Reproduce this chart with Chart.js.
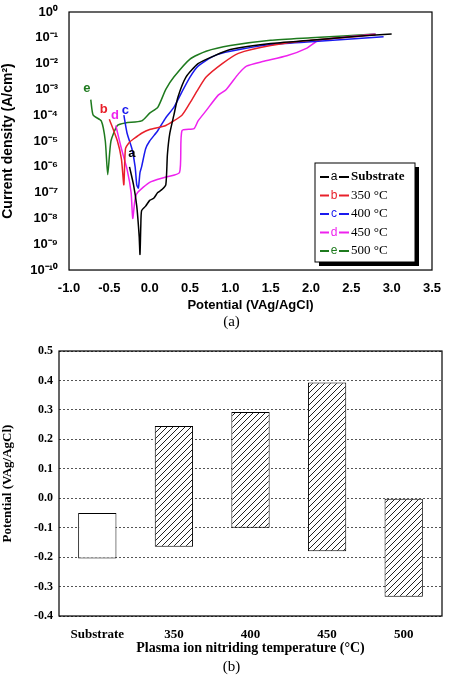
<!DOCTYPE html>
<html>
<head>
<meta charset="utf-8">
<script src="https://cdn.jsdelivr.net/npm/chart.js@4.4.1/dist/chart.umd.min.js"></script>
<style>
body { margin: 0; background: #fff; }
#wrapA { position: absolute; left: 0; top: 0; width: 453px; height: 330px; }
#wrapB { position: absolute; left: 0; top: 330px; width: 453px; height: 345px; }
</style>
</head>
<body>
<div id="wrapA"><canvas id="polChart"></canvas></div>
<div id="wrapB"><canvas id="barChart"></canvas></div>
<script>
// polarization curves (potential V, current density A/cm2)
const substrateX = [-0.25, -0.2, -0.16, -0.13, -0.12, -0.11, -0.1, -0.05, 0.0, 0.05, 0.1, 0.15, 0.2, 0.22, 0.25, 0.3, 0.35, 0.45, 0.6, 0.8, 1.0, 1.5, 2.0, 2.5, 3.0];
const substrateY = [1e-6, 2e-7, 3e-8, 2e-9, 4e-10, 5e-9, 2e-8, 3e-8, 5e-8, 6e-8, 1e-7, 1.3e-7, 2e-7, 3e-6, 2e-5, 1e-4, 5e-4, 3e-3, 1e-2, 2e-2, 3.5e-2, 6e-2, 8e-2, 1.1e-1, 1.4e-1];
const t350X = [-0.5, -0.4, -0.35, -0.32, -0.3, -0.25, -0.2, -0.1, 0.0, 0.2, 0.4, 0.5, 0.6, 0.7, 0.9, 1.1, 1.5, 2.0, 2.8];
const t350Y = [7e-5, 1e-5, 2e-6, 2e-7, 5e-6, 9e-6, 1.2e-5, 2e-5, 2.8e-5, 4e-5, 1e-4, 3e-4, 1e-3, 3e-3, 1e-2, 2.5e-2, 5e-2, 8e-2, 1.3e-1];
const t400X = [-0.32, -0.28, -0.22, -0.18, -0.16, -0.14, -0.12, -0.1, -0.05, 0.0, 0.1, 0.2, 0.3, 0.4, 0.5, 0.6, 0.8, 1.0, 1.5, 2.0, 2.9];
const t400Y = [1e-4, 2e-5, 5e-6, 1e-6, 2e-7, 1.5e-7, 6e-7, 1e-6, 5e-6, 1e-5, 2.5e-5, 8e-5, 2e-4, 8e-4, 3e-3, 8e-3, 2e-2, 3e-2, 5.5e-2, 7e-2, 1.1e-1];
const t450X = [-0.42, -0.35, -0.28, -0.23, -0.21, -0.18, -0.15, 0.0, 0.2, 0.37, 0.4, 0.55, 0.6, 0.7, 0.85, 0.95, 1.1, 1.2, 1.4, 1.7, 1.95, 2.1, 2.8];
const t450Y = [4e-5, 5e-6, 8e-7, 1e-7, 1e-8, 6e-8, 1e-7, 2.5e-7, 4e-7, 6e-7, 2.5e-5, 3e-5, 6e-5, 1.5e-4, 6e-4, 1e-3, 4e-3, 8e-3, 1.2e-2, 2e-2, 4e-2, 8e-2, 1.4e-1];
const t500X = [-0.73, -0.7, -0.6, -0.55, -0.52, -0.48, -0.4, -0.3, -0.1, 0.0, 0.1, 0.2, 0.3, 0.5, 0.7, 1.0, 1.5, 2.0, 2.8];
const t500Y = [4e-4, 1e-4, 6e-5, 1e-5, 5e-7, 1e-5, 4e-5, 5e-5, 6e-5, 1.2e-4, 2e-4, 1e-3, 3e-3, 1.5e-2, 3e-2, 5e-2, 8e-2, 1e-1, 1.4e-1];
const seriesNames = ['Substrate', '350 \u00B0C', '400 \u00B0C', '450 \u00B0C', '500 \u00B0C'];
const seriesTags = ['a', 'b', 'c', 'd', 'e'];
const seriesColors = ['#000000', '#e8202a', '#1a1aee', '#ee22ee', '#1e7a1e'];
// tag label positions [x, y]
const tagPos = [[-0.22, 2.5e-6], [-0.57, 1.2e-4], [-0.3, 1.1e-4], [-0.43, 7e-5], [-0.78, 8e-4]];

// corrosion / pitting potential ranges
const tempLabels = ['Substrate', '350', '400', '450', '500'];
const rangeLow = [-0.205, -0.165, -0.1, -0.18, -0.335];
const rangeHigh = [-0.05, 0.245, 0.293, 0.393, 0.0];

function zip(xs, ys) {
    return xs.map((x, i) => ({ x: x, y: ys[i] }));
}

const supers = { '-': '\u207B', '0': '\u2070', '1': '\u00B9', '2': '\u00B2', '3': '\u00B3', '4': '\u2074', '5': '\u2075', '6': '\u2076', '7': '\u2077', '8': '\u2078', '9': '\u2079' };
function powLabel(v) {
    let e = Math.round(Math.log10(v));
    return '10' + String(e).split('').map(c => supers[c]).join('');
}

const boxPlugin = {
    id: 'box',
    afterDraw(chart, args, opts) {
        const { ctx, chartArea: a } = chart;
        ctx.save();
        ctx.strokeStyle = '#000';
        ctx.lineWidth = 1.2;
        ctx.strokeRect(a.left, a.top, a.right - a.left, a.bottom - a.top);
        ctx.fillStyle = '#000';
        ctx.font = '15px "Liberation Serif"';
        ctx.textAlign = 'center';
        ctx.fillText(opts.caption, chart.width / 2 + 5, chart.height - 4);
        ctx.restore();
    }
};

const tagPlugin = {
    id: 'tags',
    afterDatasetsDraw(chart) {
        const { ctx, scales } = chart;
        ctx.save();
        ctx.font = 'bold 13px "Liberation Sans"';
        ctx.textAlign = 'center';
        tagPos.forEach((p, i) => {
            ctx.fillStyle = seriesColors[i];
            ctx.fillText(seriesTags[i], scales.x.getPixelForValue(p[0]), scales.y.getPixelForValue(p[1]));
        });
        // legend box
        const lx = 315, ly = 163, lw = 100, lh = 99;
        ctx.fillStyle = '#000';
        ctx.fillRect(lx + 4, ly + 4, lw, lh);
        ctx.fillStyle = '#fff';
        ctx.fillRect(lx, ly, lw, lh);
        ctx.strokeStyle = '#000';
        ctx.lineWidth = 1;
        ctx.strokeRect(lx, ly, lw, lh);
        ctx.textBaseline = 'middle';
        seriesNames.forEach((n, i) => {
            const yy = ly + 14 + i * 18.5;
            ctx.strokeStyle = seriesColors[i];
            ctx.lineWidth = 2;
            ctx.beginPath();
            ctx.moveTo(lx + 5, yy); ctx.lineTo(lx + 34, yy);
            ctx.stroke();
            ctx.fillStyle = '#fff';
            ctx.fillRect(lx + 14, yy - 6, 10, 12);
            ctx.fillStyle = seriesColors[i];
            ctx.font = '12px "Liberation Sans"';
            ctx.textAlign = 'center';
            ctx.fillText(seriesTags[i], lx + 19, yy);
            ctx.fillStyle = '#000';
            ctx.font = (i === 0 ? 'bold ' : '') + '13px "Liberation Serif"';
            ctx.textAlign = 'left';
            ctx.fillText(n, lx + 36, yy);
        });
        ctx.restore();
    }
};

function createPolChart() {
    const ctx = document.getElementById('polChart').getContext('2d');
    const xs = [substrateX, t350X, t400X, t450X, t500X];
    const ys = [substrateY, t350Y, t400Y, t450Y, t500Y];
    const datasets = xs.map((x, i) => ({
        label: seriesNames[i],
        data: zip(x, ys[i]),
        borderColor: seriesColors[i],
        borderWidth: 1.5,
        pointRadius: 0,
        tension: 0.2,
        fill: false
    }));
    new Chart(ctx, {
        type: 'line',
        data: { datasets: datasets },
        options: {
            responsive: true,
            maintainAspectRatio: false,
            animation: false,
            layout: { padding: { top: 12, right: 21, bottom: 15, left: 0 } },
            plugins: { legend: { display: false }, tooltip: { enabled: false }, box: { caption: '(a)' } },
            scales: {
                x: {
                    type: 'linear', min: -1, max: 3.5,
                    afterFit: s => { s.height = 45; },
                    grid: { display: false },
                    ticks: { stepSize: 0.5, color: '#000', font: { family: 'Liberation Sans', weight: 'bold', size: 13 }, callback: v => v.toFixed(1) },
                    title: { display: true, text: 'Potential (VAg/AgCl)', color: '#000', font: { family: 'Liberation Sans', weight: 'bold', size: 13 }, padding: 2 }
                },
                y: {
                    type: 'logarithmic', min: 1e-10, max: 1,
                    afterFit: s => { s.width = 69; },
                    afterBuildTicks: s => {
                        s.ticks = [];
                        for (let e = -10; e <= 0; e++) s.ticks.push({ value: Math.pow(10, e) });
                    },
                    grid: { display: false },
                    ticks: { color: '#000', font: { family: 'Liberation Sans', weight: 'bold', size: 13 }, callback: v => powLabel(v) },
                    title: { display: true, text: 'Current density (A/cm\u00B2)', color: '#000', font: { family: 'Liberation Sans', weight: 'bold', size: 14 }, padding: 0 }
                }
            }
        },
        plugins: [boxPlugin, tagPlugin]
    });
}

function hatchPattern() {
    const c = document.createElement('canvas');
    c.width = 6; c.height = 6;
    const p = c.getContext('2d');
    p.fillStyle = '#fff';
    p.fillRect(0, 0, 6, 6);
    p.strokeStyle = '#222';
    p.lineWidth = 1;
    p.beginPath();
    p.moveTo(0, 6); p.lineTo(6, 0);
    p.moveTo(-1, 1); p.lineTo(1, -1);
    p.moveTo(5, 7); p.lineTo(7, 5);
    p.stroke();
    return p.createPattern(c, 'repeat');
}

function createBarChart() {
    const ctx = document.getElementById('barChart').getContext('2d');
    const hatch = hatchPattern();
    new Chart(ctx, {
        type: 'bar',
        data: {
            labels: tempLabels,
            datasets: [{
                data: rangeLow.map((lo, i) => [lo, rangeHigh[i]]),
                backgroundColor: tempLabels.map((l, i) => i === 0 ? '#fff' : hatch),
                borderColor: '#000',
                borderWidth: 1,
                borderSkipped: false,
                barPercentage: 0.5,
                categoryPercentage: 1
            }]
        },
        options: {
            responsive: true,
            maintainAspectRatio: false,
            animation: false,
            layout: { padding: { top: 21, right: 11, bottom: 17, left: 0 } },
            plugins: { legend: { display: false }, tooltip: { enabled: false }, box: { caption: '(b)' } },
            scales: {
                x: {
                    afterFit: s => { s.height = 42; },
                    grid: { display: false },
                    ticks: { color: '#000', font: { family: 'Liberation Serif', weight: 'bold', size: 13 } },
                    title: { display: true, text: 'Plasma ion nitriding temperature (\u00B0C)', color: '#000', font: { family: 'Liberation Serif', weight: 'bold', size: 14 }, padding: 1 }
                },
                y: {
                    min: -0.4, max: 0.5,
                    afterFit: s => { s.width = 59; },
                    grid: { color: '#555', borderDash: [2, 2], drawTicks: false },
                    border: { display: false, dash: [2, 2] },
                    ticks: { stepSize: 0.1, color: '#000', padding: 6, font: { family: 'Liberation Serif', weight: 'bold', size: 12 }, callback: v => v.toFixed(1) },
                    title: { display: true, text: 'Potential (VAg/AgCl)', color: '#000', font: { family: 'Liberation Serif', weight: 'bold', size: 13 }, padding: 0 }
                }
            }
        },
        plugins: [boxPlugin]
    });
}

createPolChart();
createBarChart();
</script>
</body>
</html>
